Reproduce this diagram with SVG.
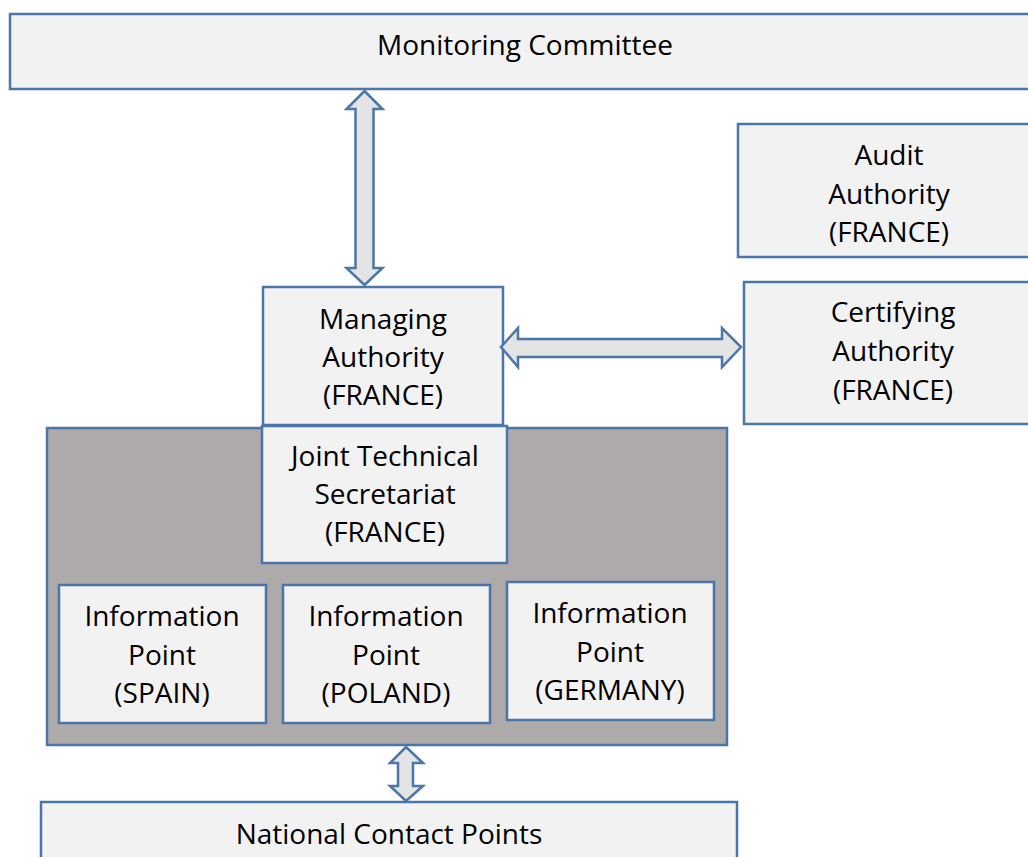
<svg xmlns="http://www.w3.org/2000/svg" width="1028" height="857" viewBox="0 0 1028 857">
<style>
.box{fill:#f2f2f2;stroke:#4a76a8;stroke-width:2.5}
.grp{fill:#aeaaaa;stroke:#4a76a8;stroke-width:2.5}
.arr{fill:#e4e4e4;stroke:#4a76a8;stroke-width:2.5;stroke-linejoin:miter}
text{font-family:"Open Sans","Liberation Sans",sans-serif;font-size:28px;fill:#000;text-anchor:middle}
</style>
<rect width="1028" height="857" fill="#fff"/>
<g id="monitoring-committee">
<rect class="box" x="10" y="14" width="1030" height="75"/>
<text x="525" y="55">Monitoring Committee</text>
</g>
<g id="audit-authority">
<rect class="box" x="738" y="124" width="300" height="133"/>
<text x="889" y="165">Audit</text>
<text x="889" y="204">Authority</text>
<text x="889" y="242">(FRANCE)</text>
</g>
<g id="certifying-authority">
<rect class="box" x="744" y="282" width="300" height="142"/>
<text x="893" y="322">Certifying</text>
<text x="893" y="361">Authority</text>
<text x="893" y="400">(FRANCE)</text>
</g>
<g id="programme-bodies">
<rect class="grp" x="47" y="428" width="680" height="317"/>
</g>
<g id="managing-authority">
<rect class="box" x="263" y="287" width="240" height="138"/>
<text x="383" y="329">Managing</text>
<text x="383" y="367">Authority</text>
<text x="383" y="405">(FRANCE)</text>
</g>
<g id="joint-technical-secretariat">
<rect class="box" x="262" y="426" width="245" height="137"/>
<text x="385" y="466">Joint Technical</text>
<text x="385" y="504">Secretariat</text>
<text x="385" y="542">(FRANCE)</text>
</g>
<g id="info-point-spain">
<rect class="box" x="59" y="585" width="207" height="138"/>
<text x="162" y="626">Information</text>
<text x="162" y="665">Point</text>
<text x="162" y="703">(SPAIN)</text>
</g>
<g id="info-point-poland">
<rect class="box" x="283" y="585" width="207" height="138"/>
<text x="386" y="626">Information</text>
<text x="386" y="665">Point</text>
<text x="386" y="703">(POLAND)</text>
</g>
<g id="info-point-germany">
<rect class="box" x="507" y="582" width="207" height="138"/>
<text x="610" y="623">Information</text>
<text x="610" y="662">Point</text>
<text x="610" y="700">(GERMANY)</text>
</g>
<g id="national-contact-points">
<rect class="box" x="41" y="802" width="696" height="80"/>
<text x="389" y="844">National Contact Points</text>
</g>
<g id="connectors">
<path class="arr" d="M364.5,91 L382.5,109 L373.5,109 L373.5,268 L382.5,268 L364.5,285 L346.5,268 L355.5,268 L355.5,109 L346.5,109 Z"/>
<path class="arr" d="M501,347 L518,328 L518,339 L722,339 L722,328 L741,347 L722,367 L722,357 L518,357 L518,367 Z"/>
<path class="arr" d="M406,747 L423,763 L413,763 L413,786 L423,786 L406,801 L390,786 L398,786 L398,763 L390,763 Z"/>
</g>
</svg>
